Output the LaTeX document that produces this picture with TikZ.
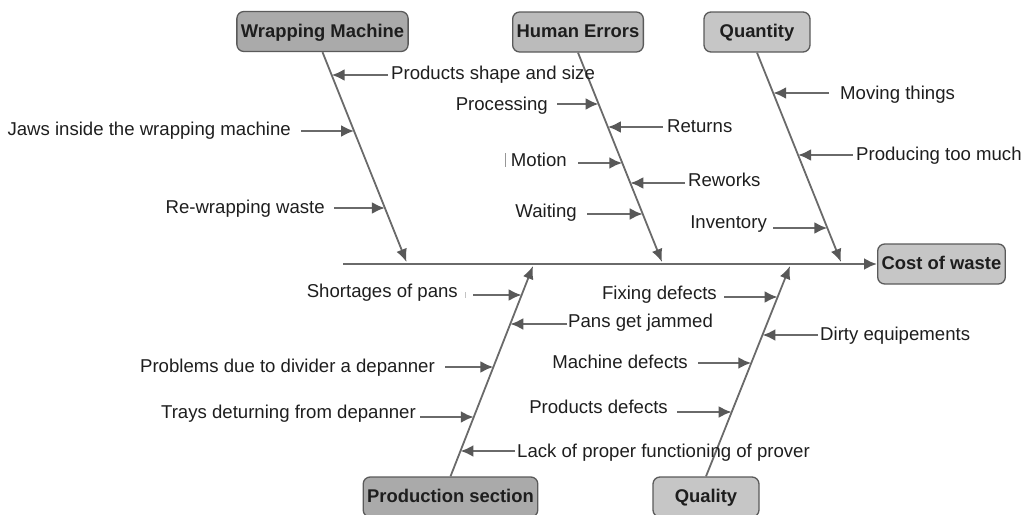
\documentclass[tikz,border=0pt]{standalone}
\usepackage{fontspec}
\setmainfont{Liberation Sans}
\usetikzlibrary{arrows.meta,calc}

\definecolor{lineg}{HTML}{6A6A6A}
\definecolor{headg}{HTML}{585858}
\definecolor{txt}{HTML}{1E1E1E}
\definecolor{boxdark}{HTML}{AAAAAA}
\definecolor{boxmid}{HTML}{BBBBBB}
\definecolor{boxlight}{HTML}{C6C6C6}
\definecolor{boxline}{HTML}{5A5A5A}

\tikzset{
  catbox/.style={draw=boxline, line width=1.3pt, rounded corners=7pt,
    minimum height=40pt, minimum width=106pt, inner xsep=4pt, inner ysep=0pt,
    text height=13.5pt, text depth=2.5pt,
    text=txt, font=\fontsize{18.4}{22}\selectfont\bfseries},
  lab/.style={inner sep=0pt, text=txt, font=\fontsize{18.6}{22}\selectfont},
  cause/.style={draw=lineg, line width=2.4pt,
    -{Latex[length=13pt,width=12pt,color=headg]}},
  bone/.style={draw=lineg, line width=1.8pt,
    -{Latex[length=13pt,width=11pt,color=headg]}},
  spine/.style={draw=lineg, line width=2.8pt,
    -{Latex[length=13pt,width=12pt,color=headg]}},
}

% point of a bone (start #2, end #3) at height #4, named #1
\newcommand\bonepoint[4]{%
  \coordinate (#1) at (intersection of #2--#3 and 0,#4--1000,#4);}

% cause written left of its bone: name, bone start, bone end,
% right edge of text, baseline, arrow height, gap, text
\newcommand\causeleft[8]{%
  \node[lab, anchor=base east] (#1) at (#4,#5) {#8};
  \bonepoint{#1h}{#2}{#3}{#6}
  \draw[cause, shorten <=#7pt] (#1.east |- #1h) -- (#1h);}

% cause written right of its bone: name, bone start, bone end,
% left edge of text, baseline, arrow height, gap, text
\newcommand\causeright[8]{%
  \node[lab, anchor=base west] (#1) at (#4,#5) {#8};
  \bonepoint{#1h}{#2}{#3}{#6}
  \draw[cause, shorten <=#7pt] (#1.west |- #1h) -- (#1h);}

\begin{document}
\begin{tikzpicture}[x=1pt, y=-1pt]
\useasboundingbox (0,0) rectangle (1022,514);

% category boxes and the effect
\node[catbox, fill=boxdark]  (wm) at (322.5,31.5) {Wrapping Machine};
\node[catbox, fill=boxmid]   (he) at (578,32)     {Human Errors};
\node[catbox, fill=boxlight] (qt) at (757,32)     {Quantity};
\node[catbox, fill=boxlight] (cw) at (941.5,264)  {Cost of waste};
\node[catbox, fill=boxdark]  (ps) at (450.5,497)  {Production section};
\node[catbox, fill=boxlight] (ql) at (706,497)    {Quality};

% spine
\coordinate (spS) at (343,264);
\draw[spine] (spS) -- (cw.west);

% bone ends on the spine
\coordinate (wmT) at (406.5,262);
\coordinate (heT) at (662,262);
\coordinate (qtT) at (841,262);
\coordinate (psT) at (533,266);
\coordinate (qlT) at (790,266);

\draw[bone] (wm.south) -- (wmT);
\draw[bone] (he.south) -- (heT);
\draw[bone] (qt.south) -- (qtT);
\draw[bone] (ps.north) -- (psT);
\draw[bone] (ql.north) -- (qlT);

% Wrapping Machine
\causeright{shape}{wm.south}{wmT}{391}{79}{75}{3}{Products shape and size}
\causeleft{jaws}{wm.south}{wmT}{291}{135}{131}{10}{Jaws inside the wrapping machine}
\causeleft{rewrap}{wm.south}{wmT}{325}{213}{208}{9}{Re-wrapping waste}

% Human Errors
\causeleft{proc}{he.south}{heT}{548}{110}{104}{9}{Processing}
\causeright{ret}{he.south}{heT}{667}{132}{127}{4}{Returns}
\causeleft{motion}{he.south}{heT}{567}{166}{163}{11}{Motion}
\causeright{rework}{he.south}{heT}{688}{186}{183}{3}{Reworks}
\causeleft{wait}{he.south}{heT}{577}{217}{214}{10}{Waiting}
\draw[line width=0.8pt, lineg!70] (505,153) -- (505,167);

% Quantity
\causeright{moving}{qt.south}{qtT}{840}{99}{93}{11}{Moving things}
\causeright{toomuch}{qt.south}{qtT}{856}{160}{155}{3}{Producing too much}
\causeleft{invent}{qt.south}{qtT}{767}{228}{228}{6}{Inventory}

% Production section
\causeleft{short}{ps.north}{psT}{458}{297}{295}{15}{Shortages of pans}
\draw[line width=0.6pt, lineg!40] (465,292) -- (465,298);
\causeright{jam}{ps.north}{psT}{568}{327}{324}{1}{Pans get jammed}
\causeleft{divid}{ps.north}{psT}{435}{372}{367}{10}{Problems due to divider a depanner}
\causeleft{trays}{ps.north}{psT}{416}{418}{417}{4}{Trays deturning from depanner}
\causeright{prover}{ps.north}{psT}{517}{457}{451}{2}{Lack of proper functioning of prover}

% Quality
\causeleft{fixing}{ql.north}{qlT}{717}{299}{297}{7}{Fixing defects}
\causeright{dirty}{ql.north}{qlT}{820}{340}{335}{2}{Dirty equipements}
\causeleft{machdef}{ql.north}{qlT}{688}{368}{363}{10}{Machine defects}
\causeleft{proddef}{ql.north}{qlT}{668}{413}{412}{9}{Products defects}
\end{tikzpicture}
\end{document}
